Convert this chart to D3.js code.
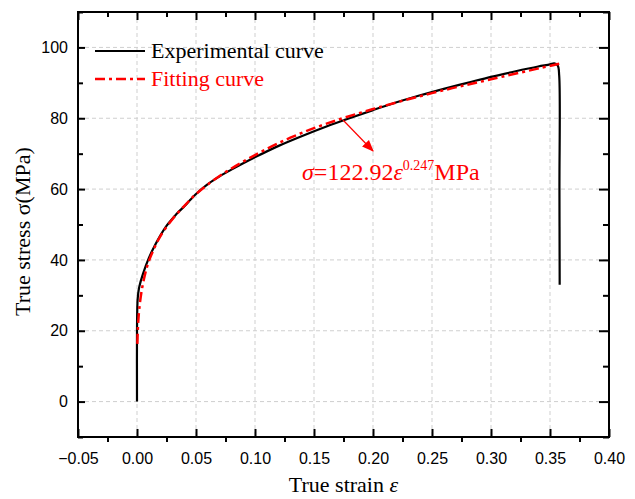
<!DOCTYPE html>
<html>
<head>
<meta charset="utf-8">
<script src="https://cdn.jsdelivr.net/npm/d3@7"></script>
<style>
  body { margin: 0; background: #fff; }
  .tick text { font-family: "Liberation Sans", Arial, sans-serif; font-size: 16px; fill: #000; }
  .serif { font-family: "Liberation Serif", "Times New Roman", serif; }
</style>
</head>
<body>
<script>
// experimental curve (true strain, true stress)
var expStrain = [0, 0, 0.0004, 0.001, 0.002, 0.005, 0.01, 0.015, 0.02, 0.025, 0.03, 0.035, 0.04, 0.045, 0.05,
                 0.06, 0.07, 0.08, 0.09, 0.1, 0.12, 0.14, 0.16, 0.18, 0.2, 0.22, 0.24, 0.26, 0.28,
                 0.3, 0.32, 0.34, 0.35, 0.3535, 0.3565, 0.3578, 0.358, 0.3582];
var expStress = [0, 20, 28, 30.5, 32.5, 36, 40.5, 44, 47, 49.6, 51.6, 53.5, 55.1, 56.9, 58.6,
                 61.4, 63.6, 65.5, 67.3, 69, 72.2, 75, 77.6, 80, 82.3, 84.5, 86.5, 88.3, 90,
                 91.7, 93.2, 94.6, 95.2, 95.5, 94.9, 92, 60, 33];

// fitting curve, sigma = 122.92 eps^0.247
var fitStrain = [0.0003, 0.0006, 0.001, 0.002, 0.004, 0.007, 0.01, 0.015, 0.02, 0.03, 0.04, 0.05,
                 0.07, 0.1, 0.13, 0.16, 0.2, 0.25, 0.3, 0.358];
var fitStress = [16.3, 19.5, 22.3, 26.4, 31.4, 36.2, 39.6, 43.6, 46.8, 51.5, 55.2, 58.6,
                 63.7, 69.6, 74.5, 78.4, 82.6, 87.1, 91.0, 95.4];

var xTicks = [-0.05, 0, 0.05, 0.1, 0.15, 0.2, 0.25, 0.3, 0.35, 0.4];
var yTicks = [0, 20, 40, 60, 80, 100];

var width = 635, height = 499;
var margin = {top: 12, right: 26, bottom: 62, left: 78};
var w = width - margin.left - margin.right;
var h = height - margin.top - margin.bottom;

var svg = d3.select("body").append("svg")
            .attr("width", width)
            .attr("height", height);

var x = d3.scaleLinear().domain([-0.05, 0.4]).range([0, w]);
var y = d3.scaleLinear().domain([-10, 110]).range([h, 0]);

var g = svg.append("g")
           .attr("transform", "translate(" + margin.left + "," + margin.top + ")");

// grid
g.append("g").selectAll("line").data(xTicks.slice(1, -1)).enter().append("line")
 .attr("x1", function(d) { return x(d); }).attr("x2", function(d) { return x(d); })
 .attr("y1", 0).attr("y2", h)
 .attr("stroke", "#cfcfcf").attr("stroke-dasharray", "4,3");
g.append("g").selectAll("line").data(yTicks).enter().append("line")
 .attr("y1", function(d) { return y(d); }).attr("y2", function(d) { return y(d); })
 .attr("x1", 0).attr("x2", w)
 .attr("stroke", "#cfcfcf").attr("stroke-dasharray", "4,3");

var xMinor = d3.range(-0.025, 0.4, 0.05);
var yMinor = d3.range(-10, 111, 20);

function styleAxis(sel) {
  sel.select(".domain").remove();
  sel.selectAll(".tick line").attr("stroke", "#000").attr("stroke-width", 2);
}

// bottom
g.append("g").attr("transform", "translate(0," + h + ")")
 .call(d3.axisBottom(x).tickValues(xTicks).tickFormat(d3.format(".2f")).tickSize(-8).tickPadding(16))
 .call(styleAxis);
g.append("g").attr("transform", "translate(0," + h + ")")
 .call(d3.axisBottom(x).tickValues(xMinor).tickFormat("").tickSize(5))
 .call(styleAxis);
// top
g.append("g")
 .call(d3.axisTop(x).tickValues(xTicks).tickFormat("").tickSize(-8))
 .call(styleAxis);
g.append("g")
 .call(d3.axisTop(x).tickValues(xMinor).tickFormat("").tickSize(-5))
 .call(styleAxis);
// left
g.append("g")
 .call(d3.axisLeft(y).tickValues(yTicks).tickSize(-7).tickPadding(10))
 .call(styleAxis);
g.append("g")
 .call(d3.axisLeft(y).tickValues(yMinor).tickFormat("").tickSize(-5))
 .call(styleAxis);
// right
g.append("g").attr("transform", "translate(" + w + ",0)")
 .call(d3.axisRight(y).tickValues(yTicks).tickFormat("").tickSize(-10))
 .call(styleAxis);
g.append("g").attr("transform", "translate(" + w + ",0)")
 .call(d3.axisRight(y).tickValues(yMinor).tickFormat("").tickSize(-6))
 .call(styleAxis);

g.append("rect").attr("width", w).attr("height", h)
 .attr("fill", "none").attr("stroke", "#000").attr("stroke-width", 2);

var line = d3.line()
             .x(function(d) { return x(d[0]); })
             .y(function(d) { return y(d[1]); })
             .curve(d3.curveCatmullRom);

var expData = expStrain.map(function(s, i) { return [s, expStress[i]]; });
var fitData = fitStrain.map(function(s, i) { return [s, fitStress[i]]; });

g.append("path").datum(expData)
 .attr("d", line)
 .attr("fill", "none").attr("stroke", "#000").attr("stroke-width", 2.2);

g.append("path").datum(fitData)
 .attr("d", line)
 .attr("fill", "none").attr("stroke", "#ff0000").attr("stroke-width", 2.5)
 .attr("stroke-dasharray", "10,4,3,4");

// legend
var legend = svg.append("g");
legend.append("line").attr("x1", 95).attr("x2", 145).attr("y1", 51).attr("y2", 51)
      .attr("stroke", "#000").attr("stroke-width", 2.2);
legend.append("text").attr("class", "serif").attr("x", 151).attr("y", 58)
      .attr("font-size", 22).attr("fill", "#000").text("Experimental curve");
legend.append("line").attr("x1", 95).attr("x2", 145).attr("y1", 79).attr("y2", 79)
      .attr("stroke", "#ff0000").attr("stroke-width", 2.5).attr("stroke-dasharray", "10,4,3,4");
legend.append("text").attr("class", "serif").attr("x", 151).attr("y", 86)
      .attr("font-size", 22).attr("fill", "#ff0000").text("Fitting curve");

// annotation
svg.append("defs").append("marker")
   .attr("id", "arrow").attr("viewBox", "0 0 10 10")
   .attr("refX", 9).attr("refY", 5)
   .attr("markerWidth", 10).attr("markerHeight", 10)
   .attr("orient", "auto")
   .append("path").attr("d", "M0,1 L10,5 L0,9 z").attr("fill", "#ff0000");
svg.append("line").attr("x1", 343).attr("y1", 120).attr("x2", 373).attr("y2", 151)
   .attr("stroke", "#ff0000").attr("stroke-width", 1.2).attr("marker-end", "url(#arrow)");

var ann = svg.append("text").attr("class", "serif").attr("x", 302).attr("y", 180)
             .attr("font-size", 24).attr("fill", "#ff0000");
ann.append("tspan").attr("font-style", "italic").text("σ");
ann.append("tspan").text("=122.92");
ann.append("tspan").attr("font-style", "italic").text("ε");
ann.append("tspan").attr("font-size", 14).attr("dy", -10).text("0.247");
ann.append("tspan").attr("dy", 10).text("MPa");

// axis titles
var xt = svg.append("text").attr("class", "serif")
            .attr("x", margin.left + x(0.175)).attr("y", 492)
            .attr("text-anchor", "middle").attr("font-size", 22).attr("fill", "#000");
xt.append("tspan").text("True strain ");
xt.append("tspan").attr("font-style", "italic").text("ε");

svg.append("text").attr("class", "serif")
   .attr("transform", "translate(30," + (margin.top + y(48)) + ") rotate(-90)")
   .attr("text-anchor", "middle").attr("font-size", 22).attr("fill", "#000")
   .text("True stress σ(MPa)");
</script>
</body>
</html>
